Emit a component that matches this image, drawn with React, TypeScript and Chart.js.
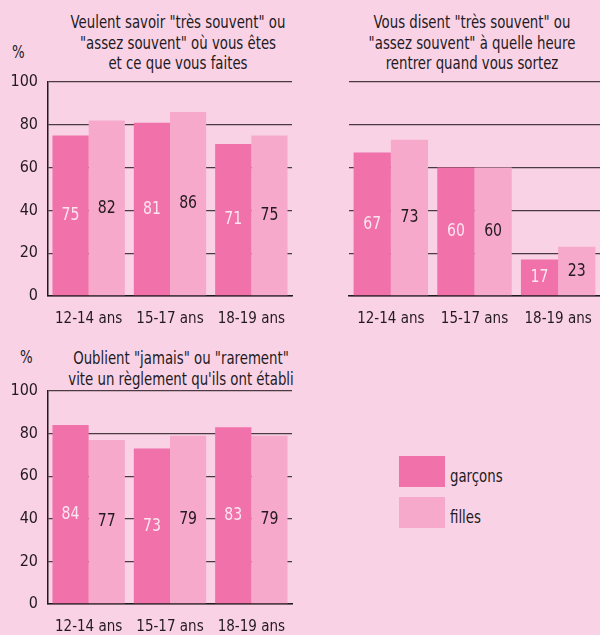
import React, { useEffect, useRef } from "react";
import { Chart, registerables } from "chart.js";

Chart.register(...registerables);

// ---- data ----
const categories = ["12-14 ans", "15-17 ans", "18-19 ans"];
const seriesNames = ["garçons", "filles"];
const savoirGarcons = [75, 81, 71];
const savoirFilles = [82, 86, 75];
const heureGarcons = [67, 60, 17];
const heureFilles = [73, 60, 23];
const oublientGarcons = [84, 73, 83];
const oublientFilles = [77, 79, 79];
const yTicks = [0, 20, 40, 60, 80, 100];
const titleSavoir = ['Veulent savoir "très souvent" ou', '"assez souvent" où vous êtes', "et ce que vous faites"];
const titleHeure = ['Vous disent "très souvent" ou', '"assez souvent" à quelle heure', "rentrer quand vous sortez"];
const titleOublient = ['Oublient "jamais" ou "rarement"', "vite un règlement qu'ils ont établi"];

// ---- styles ----
const FONT = "'Liberation Sans Narrow', 'Arial Narrow', 'DejaVu Sans Condensed', 'Roboto Condensed', 'Liberation Sans', sans-serif";
const BG = "#f9d3e5";
const C_G = "#f171aa";
const C_F = "#f6a9cb";
const GRID = "#4a3a42";
const INK = "#231a1f";
const SQUEEZE = 0.87;

const valueLabelPlugin = {
  id: "valueLabels",
  afterDatasetsDraw(chart: any) {
    const ctx = chart.ctx;
    chart.data.datasets.forEach((ds: any, i: number) => {
      const meta = chart.getDatasetMeta(i);
      meta.data.forEach((bar: any, j: number) => {
        const p = bar.getProps(["x", "y", "base"], true);
        ctx.save();
        ctx.font = `18px ${FONT}`;
        ctx.textAlign = "center";
        ctx.textBaseline = "middle";
        ctx.fillStyle = i === 0 ? "#fde6f1" : INK;
        ctx.translate(p.x, (p.y + p.base) / 2);
        ctx.scale(SQUEEZE, 1);
        ctx.fillText(String(ds.data[j]), 0, 0);
        ctx.restore();
      });
    });
  },
};

type PanelProps = {
  left: number;
  top: number;
  width: number;
  height: number;
  areaLeft: number;
  areaRight: number;
  areaTop: number;
  areaBottom: number;
  g: number[];
  f: number[];
  showY: boolean;
};

function BarPanel(props: PanelProps) {
  const ref = useRef<HTMLCanvasElement>(null);
  const { left, top, width, height, areaLeft, areaRight, areaTop, areaBottom, g, f, showY } = props;
  useEffect(() => {
    const chart = new Chart(ref.current!, {
      type: "bar",
      data: {
        labels: categories,
        datasets: [
          { label: seriesNames[0], data: g, backgroundColor: C_G, barPercentage: 1, categoryPercentage: 0.89 },
          { label: seriesNames[1], data: f, backgroundColor: C_F, barPercentage: 1, categoryPercentage: 0.89 },
        ],
      },
      options: {
        responsive: false,
        maintainAspectRatio: false,
        animation: false,
        layout: { padding: { left: 0, right: width - areaRight, top: areaTop, bottom: 0 } },
        plugins: { legend: { display: false }, tooltip: { enabled: false }, title: { display: false } },
        scales: {
          x: {
            grid: { display: false },
            border: { display: true, color: INK, width: 1.5 },
            ticks: { color: INK, font: { family: FONT, size: 15 }, padding: 6, maxRotation: 0 },
            afterFit: (s: any) => {
              s.height = height - areaBottom;
            },
          },
          y: {
            min: 0,
            max: 100,
            afterBuildTicks: (s: any) => {
              s.ticks = yTicks.map((v) => ({ value: v }));
            },
            grid: { color: GRID, lineWidth: 1.3, drawTicks: false },
            border: { display: showY, color: INK, width: 1.5 },
            ticks: { display: showY, padding: 10, color: INK, font: { family: FONT, size: 16 } },
            afterFit: (s: any) => {
              s.width = areaLeft;
            },
          },
        },
      } as any,
      plugins: [valueLabelPlugin],
    });
    return () => chart.destroy();
  }, []);
  return (
    <canvas
      ref={ref}
      width={width}
      height={height}
      style={{ position: "absolute", left, top, width, height, display: "block" }}
    />
  );
}

function TitleBlock({ lines, cx, top, w }: { lines: string[]; cx: number; top: number; w: number }) {
  return (
    <div
      style={{
        position: "absolute",
        left: cx - w / 2,
        top,
        width: w,
        textAlign: "center",
        fontFamily: FONT,
        fontSize: 17,
        lineHeight: "20.5px",
        color: INK,
        whiteSpace: "nowrap",
        transform: `scaleX(${SQUEEZE})`,
        transformOrigin: "center top",
      }}
    >
      {lines.map((l, i) => (
        <div key={i}>{l}</div>
      ))}
    </div>
  );
}

export default function App() {
  useEffect(() => {
    document.body.style.margin = "0";
    document.body.style.background = BG;
  }, []);
  const txt = {
    position: "absolute" as const,
    fontFamily: FONT,
    fontSize: 17,
    color: INK,
    lineHeight: "20px",
    transform: `scaleX(${SQUEEZE})`,
    transformOrigin: "left top",
    whiteSpace: "nowrap" as const,
  };
  return (
    <div style={{ position: "fixed", left: 0, top: 0, width: 600, height: 635, background: BG, overflow: "hidden" }}>
      <TitleBlock lines={titleSavoir} cx={178} top={12} w={320} />
      <TitleBlock lines={titleHeure} cx={472} top={12} w={320} />
      <TitleBlock lines={titleOublient} cx={181} top={348} w={320} />
      <div style={{ ...txt, left: 12, top: 42 }}>%</div>
      <div style={{ ...txt, left: 20, top: 347 }}>%</div>

      <BarPanel left={0} top={60} width={300} height={275} areaLeft={48} areaRight={292} areaTop={22} areaBottom={236} g={savoirGarcons} f={savoirFilles} showY={true} />
      <BarPanel left={300} top={60} width={300} height={275} areaLeft={49} areaRight={300} areaTop={22} areaBottom={236} g={heureGarcons} f={heureFilles} showY={false} />
      <BarPanel left={0} top={369} width={300} height={266} areaLeft={48} areaRight={292} areaTop={22} areaBottom={235} g={oublientGarcons} f={oublientFilles} showY={true} />

      <div style={{ position: "absolute", left: 399, top: 456, width: 46, height: 31, background: C_G }} />
      <div style={{ position: "absolute", left: 399, top: 497, width: 46, height: 31, background: C_F }} />
      <div style={{ ...txt, left: 450, top: 466 }}>{seriesNames[0]}</div>
      <div style={{ ...txt, left: 450, top: 507 }}>{seriesNames[1]}</div>
    </div>
  );
}
